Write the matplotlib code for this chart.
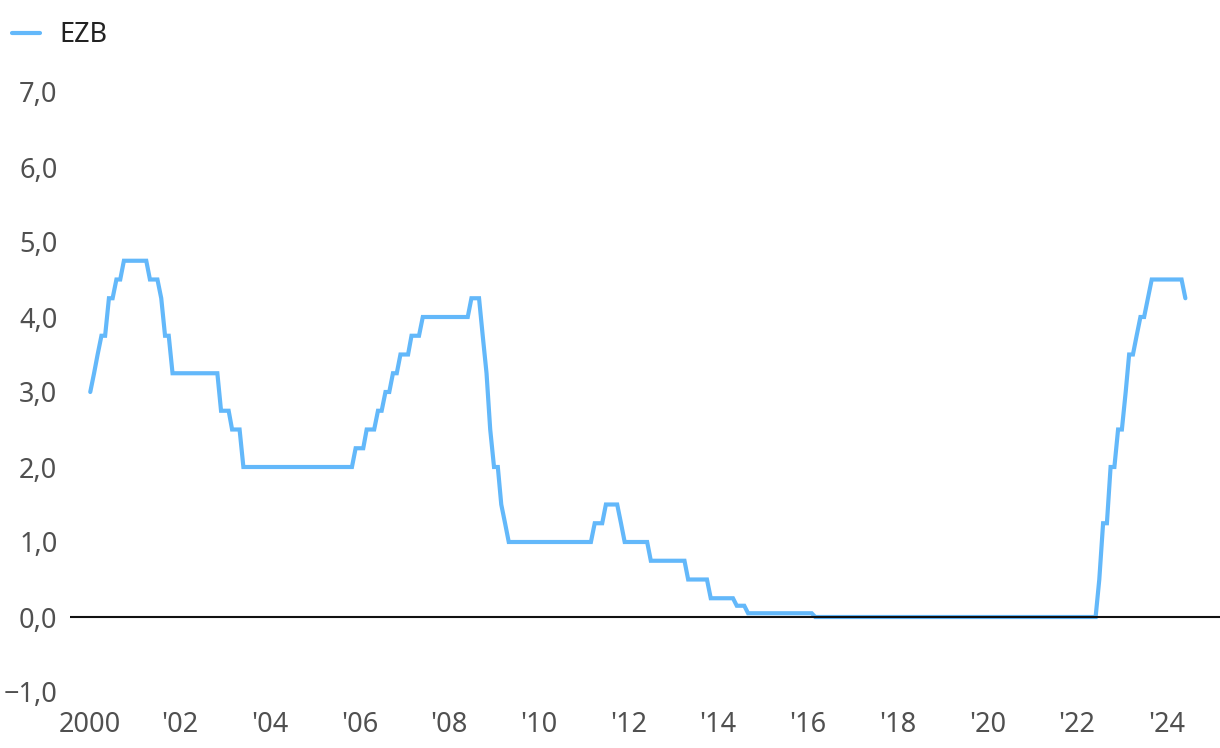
import matplotlib
matplotlib.use('Agg')
import matplotlib.pyplot as plt
import pandas as pd

# ECB main refinancing rate, monthly values (Jan 2000 - Jun 2024)
ecb_rate = [
    3.00, 3.25, 3.50, 3.75, 3.75, 4.25, 4.25, 4.50, 4.50, 4.75, 4.75, 4.75,  # 2000
    4.75, 4.75, 4.75, 4.75, 4.50, 4.50, 4.50, 4.25, 3.75, 3.75, 3.25, 3.25,  # 2001
    3.25, 3.25, 3.25, 3.25, 3.25, 3.25, 3.25, 3.25, 3.25, 3.25, 3.25, 2.75,  # 2002
    2.75, 2.75, 2.50, 2.50, 2.50, 2.00, 2.00, 2.00, 2.00, 2.00, 2.00, 2.00,  # 2003
    2.00, 2.00, 2.00, 2.00, 2.00, 2.00, 2.00, 2.00, 2.00, 2.00, 2.00, 2.00,  # 2004
    2.00, 2.00, 2.00, 2.00, 2.00, 2.00, 2.00, 2.00, 2.00, 2.00, 2.00, 2.25,  # 2005
    2.25, 2.25, 2.50, 2.50, 2.50, 2.75, 2.75, 3.00, 3.00, 3.25, 3.25, 3.50,  # 2006
    3.50, 3.50, 3.75, 3.75, 3.75, 4.00, 4.00, 4.00, 4.00, 4.00, 4.00, 4.00,  # 2007
    4.00, 4.00, 4.00, 4.00, 4.00, 4.00, 4.25, 4.25, 4.25, 3.75, 3.25, 2.50,  # 2008
    2.00, 2.00, 1.50, 1.25, 1.00, 1.00, 1.00, 1.00, 1.00, 1.00, 1.00, 1.00,  # 2009
    1.00, 1.00, 1.00, 1.00, 1.00, 1.00, 1.00, 1.00, 1.00, 1.00, 1.00, 1.00,  # 2010
    1.00, 1.00, 1.00, 1.25, 1.25, 1.25, 1.50, 1.50, 1.50, 1.50, 1.25, 1.00,  # 2011
    1.00, 1.00, 1.00, 1.00, 1.00, 1.00, 0.75, 0.75, 0.75, 0.75, 0.75, 0.75,  # 2012
    0.75, 0.75, 0.75, 0.75, 0.50, 0.50, 0.50, 0.50, 0.50, 0.50, 0.25, 0.25,  # 2013
    0.25, 0.25, 0.25, 0.25, 0.25, 0.15, 0.15, 0.15, 0.05, 0.05, 0.05, 0.05,  # 2014
    0.05, 0.05, 0.05, 0.05, 0.05, 0.05, 0.05, 0.05, 0.05, 0.05, 0.05, 0.05,  # 2015
    0.05, 0.05, 0.00, 0.00, 0.00, 0.00, 0.00, 0.00, 0.00, 0.00, 0.00, 0.00,  # 2016
    0.00, 0.00, 0.00, 0.00, 0.00, 0.00, 0.00, 0.00, 0.00, 0.00, 0.00, 0.00,  # 2017
    0.00, 0.00, 0.00, 0.00, 0.00, 0.00, 0.00, 0.00, 0.00, 0.00, 0.00, 0.00,  # 2018
    0.00, 0.00, 0.00, 0.00, 0.00, 0.00, 0.00, 0.00, 0.00, 0.00, 0.00, 0.00,  # 2019
    0.00, 0.00, 0.00, 0.00, 0.00, 0.00, 0.00, 0.00, 0.00, 0.00, 0.00, 0.00,  # 2020
    0.00, 0.00, 0.00, 0.00, 0.00, 0.00, 0.00, 0.00, 0.00, 0.00, 0.00, 0.00,  # 2021
    0.00, 0.00, 0.00, 0.00, 0.00, 0.00, 0.50, 1.25, 1.25, 2.00, 2.00, 2.50,  # 2022
    2.50, 3.00, 3.50, 3.50, 3.75, 4.00, 4.00, 4.25, 4.50, 4.50, 4.50, 4.50,  # 2023
    4.50, 4.50, 4.50, 4.50, 4.50, 4.25,                                      # 2024
]
start_month = '2000-01-01'
series_name = 'EZB'

tick_years = [2000, 2002, 2004, 2006, 2008, 2010, 2012, 2014, 2016, 2018, 2020, 2022, 2024]
tick_labels = ['2000', "'02", "'04", "'06", "'08", "'10", "'12", "'14", "'16", "'18", "'20", "'22", "'24"]
y_ticks = [-1.0, 0.0, 1.0, 2.0, 3.0, 4.0, 5.0, 6.0, 7.0]

line_color = '#63B8FA'
label_color = '#505050'

plt.rcParams['font.family'] = ['Noto Sans', 'DejaVu Sans']

dates = pd.date_range(start_month, periods=len(ecb_rate), freq='MS')

fig = plt.figure(figsize=(12.2, 7.48), dpi=100)
ax = fig.add_axes([70 / 1220, 56 / 748, 1150 / 1220, 600 / 748])

ax.plot(dates, ecb_rate, color=line_color, linewidth=3.0, solid_joinstyle='miter',
        solid_capstyle='round', label=series_name, zorder=2)
ax.axhline(0, color='#111111', linewidth=1.5, zorder=3)

# x range chosen to match the reference framing
ax.set_xlim(pd.Timestamp('1999-07-20'), pd.Timestamp('2025-03-10'))
ax.set_ylim(-1.0, 7.0)

ax.set_xticks([pd.Timestamp(f'{y}-01-01') for y in tick_years])
ax.set_xticklabels(tick_labels)
ax.set_yticks(y_ticks)
ax.set_yticklabels([f'{v:.1f}'.replace('.', ',').replace('-', '\u2212') for v in y_ticks])

ax.tick_params(axis='both', length=0, labelsize=19.5, labelcolor=label_color)
ax.tick_params(axis='y', pad=9)
ax.tick_params(axis='x', pad=13.5)
for spine in ax.spines.values():
    spine.set_visible(False)

fig.legend(loc='center left', bbox_to_anchor=(12 / 1220, 1 - 35 / 748), frameon=False,
           fontsize=19.5, handlelength=1.05, handletextpad=0.7, borderpad=0,
           borderaxespad=0, labelcolor='#222222')

fig.savefig('out.png', dpi=100)
plt.close(fig)
